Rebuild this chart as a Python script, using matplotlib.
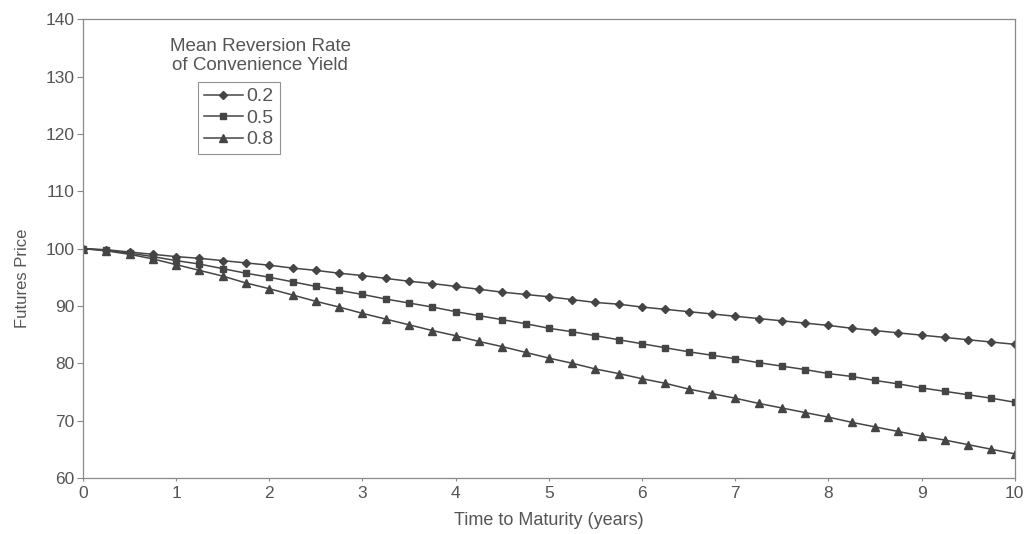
import matplotlib.pyplot as plt

# time to maturity, quarterly steps 0 .. 10 years
maturity = [i * 0.25 for i in range(41)]

rate_labels = ['0.2', '0.5', '0.8']

price_02 = [100.0, 99.8, 99.4, 99.0, 98.6, 98.3, 97.9, 97.5, 97.1, 96.6,
            96.2, 95.7, 95.3, 94.8, 94.3, 93.9, 93.4, 92.9, 92.4, 92.0,
            91.6, 91.1, 90.6, 90.3, 89.8, 89.4, 89.0, 88.6, 88.2, 87.8,
            87.4, 87.0, 86.6, 86.1, 85.7, 85.3, 84.9, 84.5, 84.1, 83.7,
            83.3]
price_05 = [100.0, 99.7, 99.2, 98.6, 97.9, 97.3, 96.5, 95.7, 95.0, 94.2,
            93.4, 92.7, 92.0, 91.2, 90.5, 89.8, 89.0, 88.3, 87.6, 86.9,
            86.1, 85.5, 84.8, 84.1, 83.4, 82.7, 82.0, 81.4, 80.8, 80.1,
            79.5, 78.9, 78.2, 77.7, 77.0, 76.4, 75.7, 75.1, 74.5, 73.9,
            73.2]
price_08 = [100.0, 99.6, 99.0, 98.2, 97.2, 96.2, 95.2, 94.0, 93.0, 91.9,
            90.8, 89.8, 88.7, 87.7, 86.7, 85.7, 84.8, 83.8, 82.9, 81.9,
            80.9, 80.0, 79.0, 78.2, 77.3, 76.5, 75.5, 74.7, 73.9, 73.0,
            72.2, 71.4, 70.6, 69.7, 68.9, 68.1, 67.3, 66.6, 65.8, 65.0,
            64.2]

x_ticks = list(range(0, 11))
y_ticks = list(range(60, 141, 10))

line_col = '#454545'
text_col = '#555555'
font = ['Liberation Sans', 'DejaVu Sans']

plt.rcParams['font.family'] = font

fig = plt.figure(figsize=(10.24, 5.34), dpi=100)
ax = fig.add_axes([0.081, 0.105, 0.91, 0.859])

ax.plot(maturity, price_02, color=line_col, lw=1.1, marker='D', ms=3.6,
        label=rate_labels[0])
ax.plot(maturity, price_05, color=line_col, lw=1.1, marker='s', ms=5,
        label=rate_labels[1])
ax.plot(maturity, price_08, color=line_col, lw=1.1, marker='^', ms=5.2,
        label=rate_labels[2])

ax.set_xlim(0, 10)
ax.set_ylim(60, 140)
ax.set_xticks(x_ticks)
ax.set_yticks(y_ticks)
ax.tick_params(axis='y', direction='out', length=4, width=0.8,
               color='#888888', labelsize=12.5, labelcolor=text_col, pad=2)
ax.tick_params(axis='x', direction='out', length=2, width=0.8,
               color='#888888', labelsize=12.5, labelcolor=text_col, pad=4)
for side in ['left', 'right', 'top', 'bottom']:
    ax.spines[side].set_color('#8a8a8a')
    ax.spines[side].set_linewidth(0.9)

ax.set_xlabel('Time to Maturity (years)', fontsize=13, color=text_col,
              labelpad=8)
ax.set_ylabel('Futures Price', fontsize=12, color=text_col,
              family=['Liberation Sans Narrow', 'Liberation Sans', 'DejaVu Sans'])
ax.yaxis.set_label_coords(-0.057, 0.436)

# legend title sits above the box in the original
fig.text(260 / 1024, 1 - 56 / 534,
         'Mean Reversion Rate\nof Convenience Yield',
         ha='center', va='center', fontsize=13.5, color=text_col,
         linespacing=1.1)
leg = ax.legend(loc='upper left', bbox_to_anchor=(198 / 1024, 1 - 82 / 534),
                bbox_transform=fig.transFigure, frameon=True, fancybox=False,
                fontsize=14, handlelength=2.0, handletextpad=0.2,
                labelspacing=0.2, borderpad=0.3, borderaxespad=0,
                labelcolor=text_col)
leg.get_frame().set_edgecolor('#777777')
leg.get_frame().set_linewidth(0.8)

fig.savefig('out.png', dpi=100)
